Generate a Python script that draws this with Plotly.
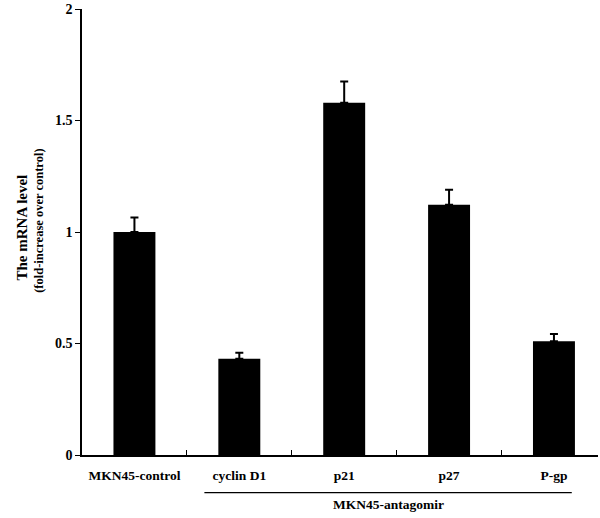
import plotly.graph_objects as go

categories = ["MKN45-control", "cyclin D1", "p21", "p27", "P-gp"]
values = [1.00, 0.432, 1.58, 1.122, 0.51]
errors = [0.065, 0.027, 0.095, 0.067, 0.033]
y_ticks = [0, 0.5, 1, 1.5, 2]
y_tick_labels = ["0", "0.5", "1", "1.5", "2"]
y_title_lines = ["The mRNA level", "(fold-increase over control)"]
group_label = "MKN45-antagomir"

FONT = "Liberation Serif"

fig = go.Figure()
fig.add_trace(go.Bar(
    x=categories,
    y=values,
    width=0.4,
    marker=dict(color="black", line=dict(width=0)),
    error_y=dict(type="data", array=errors, arrayminus=[0] * len(errors),
                 symmetric=False, color="black", thickness=2, width=4),
))

fig.update_layout(
    width=600, height=518,
    margin=dict(l=82, r=2, t=9, b=63),
    plot_bgcolor="white", paper_bgcolor="white",
    showlegend=False,
    font=dict(family=FONT, color="black"),
    xaxis=dict(
        type="category", automargin=False, range=[-0.5, 4.42],
        showline=True, linecolor="black", linewidth=1.5,
        ticks="inside", tickson="boundaries", ticklen=5, tickwidth=1.2, tickcolor="black",
        tickfont=dict(family=FONT, size=13.5, color="black", weight="bold"),
        ticklabelstandoff=7,
        showgrid=False, zeroline=False,
    ),
    yaxis=dict(
        range=[0, 2], automargin=False,
        tickvals=y_ticks, ticktext=y_tick_labels,
        showline=True, linecolor="black", linewidth=1.5,
        ticks="outside", ticklen=5, tickwidth=1.2, tickcolor="black",
        tickfont=dict(family=FONT, size=14, color="black", weight="bold"),
        showgrid=False, zeroline=False,
    ),
)

# y-axis title (two lines)
fig.add_annotation(
    xref="paper", yref="paper", x=0, y=0.51, xanchor="center", yanchor="middle",
    xshift=-60, text="<b>" + y_title_lines[0] + "</b>",
    textangle=-90, showarrow=False, font=dict(family=FONT, size=15, color="black"),
)
fig.add_annotation(
    xref="paper", yref="paper", x=0, y=0.525, xanchor="center", yanchor="middle",
    xshift=-43, text="<b>" + y_title_lines[1] + "</b>",
    textangle=-90, showarrow=False, font=dict(family=FONT, size=12.5, color="black"),
)

# group bracket line and label
fig.add_shape(type="line", xref="x", yref="paper", x0=0.667, x1=4.17, y0=-0.0845, y1=-0.0845,
              line=dict(color="black", width=1.3))
fig.add_annotation(
    xref="x", yref="paper", x=2.42, y=-0.112, xanchor="center", yanchor="middle",
    text="<b>" + group_label + "</b>", showarrow=False,
    font=dict(family=FONT, size=13.5, color="black"),
)

fig.write_html("out.html", config={"displayModeBar": False},
               post_script="document.body.style.margin='0px';")
